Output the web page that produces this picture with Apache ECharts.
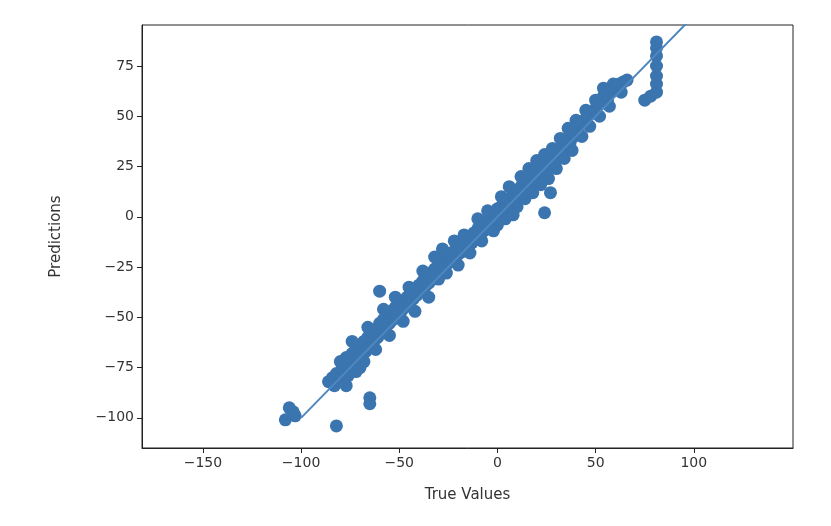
<!DOCTYPE html>
<html><head><meta charset="utf-8">
<script src="https://cdn.jsdelivr.net/npm/echarts@6/dist/echarts.min.js"></script>
<style>html,body{margin:0;background:#fff}#c{width:831px;height:526px}</style>
</head><body><div id="c"></div>
<script>
const xTicks = [-150, -100, -50, 0, 50, 100];
const yTicks = [-100, -75, -50, -25, 0, 25, 50, 75];
const fitLine = [[-100, -100], [100, 100]];
const points = [
[-108,-101],[-106,-95],[-104,-97],[-103,-99],[-82,-104],[-65,-90],[-65,-93],[-60,-37],
[-86,-82],[-84,-80],[-83,-84],[-82,-78],[-80,-81],[-79,-73],[-78,-76],[-77,-70],[-76,-79],[-75,-72],
[-74,-68],[-73,-75],[-72,-66],[-72,-77],[-71,-71],[-70,-64],[-69,-69],[-68,-62],[-68,-72],[-67,-67],
[-66,-60],[-65,-65],[-64,-58],[-64,-65],[-63,-62],[-62,-56],[-61,-60],[-60,-53],[-59,-57],[-58,-51],
[-57,-55],[-56,-49],[-55,-53],[-54,-47],[-53,-51],[-52,-45],[-51,-49],[-50,-44],[-49,-47],[-48,-42],
[-47,-45],[-46,-40],[-45,-43],[-44,-37],[-43,-41],[-42,-36],[-41,-39],[-40,-34],[-39,-37],[-38,-32],
[-37,-35],[-36,-30],[-35,-33],[-34,-28],[-33,-31],[-32,-26],[-31,-29],[-30,-24],[-29,-27],[-28,-16],
[-28,-22],[-27,-25],[-26,-18],[-25,-23],[-24,-20],[-23,-22],[-22,-17],[-21,-20],[-20,-15],[-19,-18],
[-18,-14],[-17,-16],[-16,-12],[-15,-15],[-14,-10],[-13,-13],[-12,-8],[-11,-11],[-10,-6],[-9,-9],
[-8,-5],[-7,-7],[-6,-3],[-5,-6],[-4,0],[-3,-3],[-2,2],[-1,-1],[0,4],[1,0],[2,5],[3,2],[4,7],[5,4],
[6,9],[7,6],[8,11],[9,7],[10,13],[11,9],[12,15],[13,11],[14,17],[15,14],[16,19],[17,16],[18,21],
[19,18],[20,23],[21,20],[22,25],[23,22],[24,2],[27,12],[25,27],[26,24],[28,28],[29,26],[30,31],
[31,29],[32,34],[33,31],[34,36],[35,34],[36,39],[37,37],[38,42],[39,40],[40,45],[41,43],[42,46],
[44,48],[46,50],[48,52],[50,54],[52,57],[54,60],[55,63],[56,58],[58,62],[60,64],[62,66],[64,67],
[66,68],[75,58],[78,60],[81,62],[81,66],[81,70],[81,75],[81,80],[81,84],[81,87],
[-80,-72],[-77,-84],[-74,-62],[-70,-75],[-66,-55],[-62,-66],[-58,-46],[-55,-59],[-52,-40],[-48,-52],
[-45,-35],[-42,-47],[-38,-27],[-35,-40],[-32,-20],[-30,-31],[-26,-28],[-22,-12],[-20,-24],[-17,-9],
[-14,-18],[-10,-1],[-8,-12],[-5,3],[-2,-7],[0,-4],[2,10],[4,-1],[6,15],[8,1],[10,5],[12,20],
[14,9],[16,24],[18,12],[20,28],[22,16],[24,31],[26,19],[28,34],[30,24],[32,39],[34,29],[36,44],
[38,33],[40,48],[43,40],[45,53],[47,45],[50,58],[52,50],[54,64],[57,55],[59,66],[63,62]
];
const chart = echarts.init(document.getElementById('c'));
const font = 'DejaVu Sans';
chart.setOption({
  animation: false,
  grid: {left: 142, right: 38, top: 25, bottom: 78},
  xAxis: {type: 'value', min: -181, max: 150.5, name: 'True Values', nameLocation: 'middle', nameGap: 40,
    nameTextStyle: {color: '#333', fontSize: 15, fontFamily: font},
    axisLine: {onZero: false, lineStyle: {color: '#222'}},
    axisTick: {show: true, customValues: xTicks, length: 5, lineStyle: {color: '#222'}},
    axisLabel: {customValues: xTicks, color: '#333', fontSize: 14, fontFamily: font, formatter: v => String(v).replace('-', '\u2212')},
    splitLine: {show: false}},
  yAxis: {type: 'value', min: -115, max: 95.4, name: 'Predictions', nameLocation: 'middle', nameGap: 78,
    nameTextStyle: {color: '#333', fontSize: 15, fontFamily: font},
    axisLine: {show: true, onZero: false, lineStyle: {color: '#222'}},
    axisTick: {show: true, customValues: yTicks, length: 5, lineStyle: {color: '#222'}},
    axisLabel: {customValues: yTicks, color: '#333', fontSize: 14, fontFamily: font, formatter: v => String(v).replace('-', '\u2212')},
    splitLine: {show: false}},
  series: [
    {type: 'scatter', data: points, symbolSize: 13, itemStyle: {color: '#3b75af', opacity: 1}},
    {type: 'line', data: fitLine, showSymbol: false, clip: true, lineStyle: {color: '#4f88c0', width: 2}}
  ],
  graphic: [{type: 'rect', shape: {x: 142, y: 25, width: 651, height: 423}, style: {fill: 'none', stroke: '#222', lineWidth: 1}, silent: true}]
});
</script></body></html>
